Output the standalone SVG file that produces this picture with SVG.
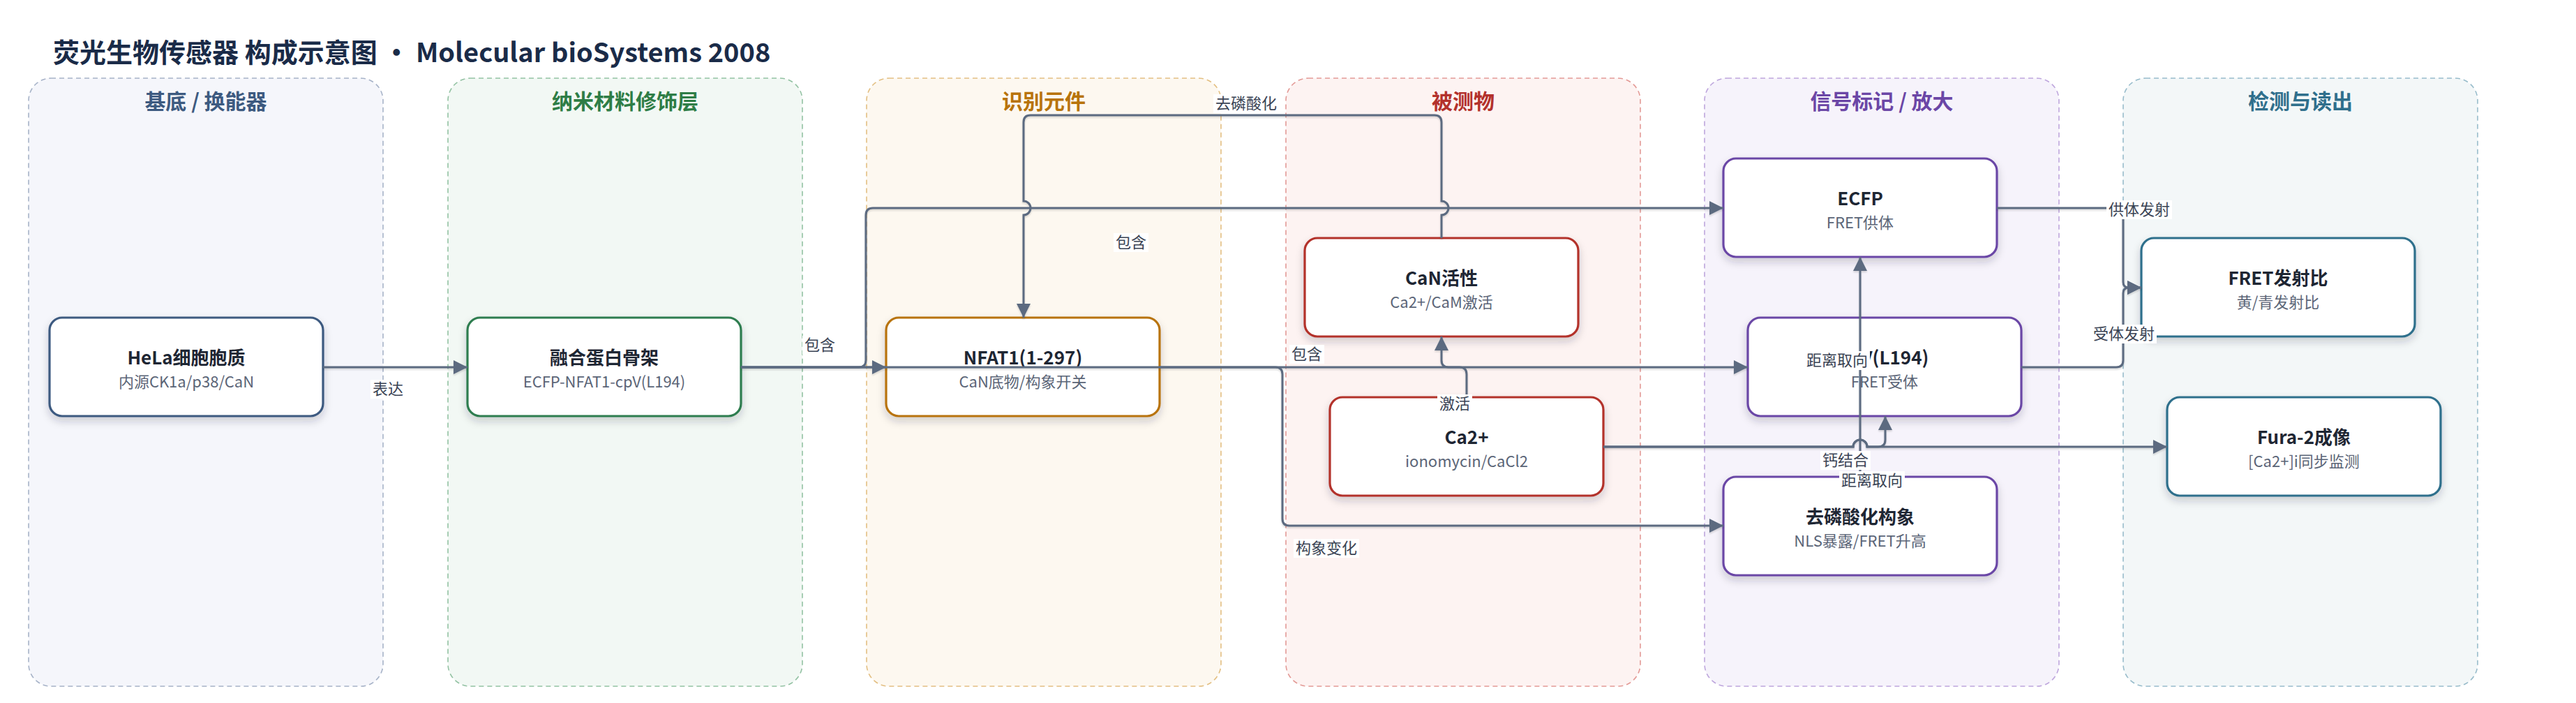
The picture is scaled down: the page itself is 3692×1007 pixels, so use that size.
<svg xmlns="http://www.w3.org/2000/svg" width="3692" height="1007" viewBox="0 0 3692 1007">
<style>
text{font-family:"Noto Sans CJK SC","Noto Sans",sans-serif}
.title{font-size:38px;font-weight:700;fill:#1a2b48}
.lane{stroke-width:1.6;stroke-dasharray:7 5}
.lt{font-size:30px;font-weight:700;text-anchor:middle}
.box{fill:#fff;stroke-width:3.2;filter:url(#sh)}
.nt{font-size:26px;font-weight:700;fill:#1e2633;text-anchor:middle}
.ns{font-size:22px;fill:#5b6577;text-anchor:middle}
.edge{fill:none;stroke:#5b6b80;stroke-width:3;marker-end:url(#arr)}
.edge0{fill:none;stroke:#5b6b80;stroke-width:3}
.lb{fill:#fff}
.lbt{font-size:22px;fill:#3a4354;text-anchor:middle}
</style>
<defs>
<filter id="sh" x="-10%" y="-20%" width="120%" height="150%">
<feDropShadow dx="0" dy="6" stdDeviation="6" flood-color="#1e2633" flood-opacity="0.2"/>
</filter>
<filter id="esh" x="-5%" y="-5%" width="110%" height="110%">
<feDropShadow dx="0" dy="2" stdDeviation="1.2" flood-color="#1e2633" flood-opacity="0.18"/>
</filter>
<marker id="arr" markerUnits="userSpaceOnUse" markerWidth="20" markerHeight="20" refX="20" refY="10" orient="auto">
<path d="M0,0 L20,10 L0,20 z" fill="#5b6b80"/>
</marker>
</defs>
<rect width="3692" height="1007" fill="#fff"/>
<text class="title" x="76" y="89">荧光生物传感器 构成示意图 · Molecular bioSystems 2008</text>

<g id="lanes">
<g id="lane-substrate"><rect class="lane" x="41" y="112" width="508" height="871" rx="32" fill="#f5f6fb" stroke="#a7b3c8"/><text class="lt" x="295" y="156" fill="#3d5a80">基底 / 换能器</text></g>
<g id="lane-nano"><rect class="lane" x="642" y="112" width="508" height="871" rx="32" fill="#f2f8f4" stroke="#93c2a3"/><text class="lt" x="896" y="156" fill="#2e7d46">纳米材料修饰层</text></g>
<g id="lane-recog"><rect class="lane" x="1242" y="112" width="508" height="871" rx="32" fill="#fdf8f0" stroke="#e3bf82"/><text class="lt" x="1496" y="156" fill="#b8730a">识别元件</text></g>
<g id="lane-analyte"><rect class="lane" x="1843" y="112" width="508" height="871" rx="32" fill="#fdf3f2" stroke="#e39a96"/><text class="lt" x="2097" y="156" fill="#b3312c">被测物</text></g>
<g id="lane-signal"><rect class="lane" x="2443" y="112" width="508" height="871" rx="32" fill="#f6f3fb" stroke="#bea6dd"/><text class="lt" x="2697" y="156" fill="#6b46a6">信号标记 / 放大</text></g>
<g id="lane-readout"><rect class="lane" x="3043" y="112" width="508" height="871" rx="32" fill="#f3f7f8" stroke="#98bccb"/><text class="lt" x="3297" y="156" fill="#2f6f8c">检测与读出</text></g>
</g>

<g id="nodes">
<g id="n-hela"><rect class="box" x="71" y="455" width="392" height="141" rx="18" stroke="#3d5a80"/><text class="nt" x="267" y="522">HeLa细胞胞质</text><text class="ns" x="267" y="555">内源CK1a/p38/CaN</text></g>
<g id="n-fusion"><rect class="box" x="670" y="455" width="392" height="141" rx="18" stroke="#2e7d4f"/><text class="nt" x="866" y="522">融合蛋白骨架</text><text class="ns" x="866" y="555">ECFP-NFAT1-cpV(L194)</text></g>
<g id="n-nfat1"><rect class="box" x="1270" y="455" width="392" height="141" rx="18" stroke="#b8730a"/><text class="nt" x="1466" y="522">NFAT1(1-297)</text><text class="ns" x="1466" y="555">CaN底物/构象开关</text></g>
<g id="n-can"><rect class="box" x="1870" y="341" width="392" height="141" rx="18" stroke="#b3312c"/><text class="nt" x="2066" y="408">CaN活性</text><text class="ns" x="2066" y="441">Ca2+/CaM激活</text></g>
<g id="n-ca"><rect class="box" x="1906" y="569" width="392" height="141" rx="18" stroke="#b3312c"/><text class="nt" x="2102" y="636">Ca2+</text><text class="ns" x="2102" y="669">ionomycin/CaCl2</text></g>
<g id="n-ecfp"><rect class="box" x="2470" y="227" width="392" height="141" rx="18" stroke="#6b46a6"/><text class="nt" x="2666" y="294">ECFP</text><text class="ns" x="2666" y="327">FRET供体</text></g>
<g id="n-cpv"><rect class="box" x="2505" y="455" width="392" height="141" rx="18" stroke="#6b46a6"/><text class="nt" x="2701" y="522">cpV(L194)</text><text class="ns" x="2701" y="555">FRET受体</text></g>
<g id="n-dephos"><rect class="box" x="2470" y="683" width="392" height="141" rx="18" stroke="#6b46a6"/><text class="nt" x="2666" y="750">去磷酸化构象</text><text class="ns" x="2666" y="783">NLS暴露/FRET升高</text></g>
<g id="n-fret"><rect class="box" x="3069" y="341" width="392" height="141" rx="18" stroke="#2f6f8c"/><text class="nt" x="3265" y="408">FRET发射比</text><text class="ns" x="3265" y="441">黄/青发射比</text></g>
<g id="n-fura"><rect class="box" x="3106" y="569" width="392" height="141" rx="18" stroke="#2f6f8c"/><text class="nt" x="3302" y="636">Fura-2成像</text><text class="ns" x="3302" y="669">[Ca2+]i同步监测</text></g>
</g>

<g id="connectors" filter="url(#esh)">
<path id="e-express" class="edge" d="M463,526 H670"/>
<path id="e-fusion-nfat1" class="edge" d="M1062,526 H1270"/>
<path id="e-fusion-ecfp" class="edge" d="M1062,526 H1231 Q1241,526 1241,516 V308 Q1241,298 1251,298 H2470"/>
<path id="e-fusion-cpv" class="edge" d="M1062,526 H2505"/>
<path id="e-dephos" class="edge" d="M2066,341 V308 A10,10 0 0 0 2066,288 V175 Q2066,165 2056,165 H1477 Q1467,165 1467,175 V288 A10,10 0 0 1 1467,308 V455"/>
<path id="e-activate" class="edge" d="M2102,569 V536 Q2102,526 2092,526 H2076 Q2066,526 2066,516 V482"/>
<path id="e-conform" class="edge" d="M1662,526 H1828 Q1838,526 1838,536 V743 Q1838,753 1848,753 H2470"/>
<path id="e-ca-cpv" class="edge" d="M2298,640 H2656 A10,10 0 0 1 2676,640 H2692 Q2702,640 2702,630 V596"/>
<path id="e-ca-fura" class="edge" d="M2298,640 H2656 A10,10 0 0 1 2676,640 H3106"/>
<path id="e-dephos-ecfp" class="edge" d="M2666,683 V368"/>
<path id="e-ecfp-fret" class="edge" d="M2862,298 H3033 Q3043,298 3043,308 V404 Q3043,412 3051,412 H3069"/>
<path id="e-cpv-fret" class="edge" d="M2897,526 H3033 Q3043,526 3043,516 V420 Q3043,412 3051,412 H3069"/>
</g>

<g id="edge-labels">
<g><rect class="lb" x="531" y="544" width="50" height="27"/><text class="lbt" x="556" y="565">表达</text></g>
<g><rect class="lb" x="1150" y="481" width="50" height="27"/><text class="lbt" x="1175" y="502">包含</text></g>
<g><rect class="lb" x="1596" y="334" width="50" height="27"/><text class="lbt" x="1621" y="355">包含</text></g>
<g><rect class="lb" x="1739" y="135" width="94" height="27"/><text class="lbt" x="1786" y="156">去磷酸化</text></g>
<g><rect class="lb" x="1848" y="494" width="50" height="27"/><text class="lbt" x="1873" y="515">包含</text></g>
<g><rect class="lb" x="2060" y="565" width="50" height="27"/><text class="lbt" x="2085" y="586">激活</text></g>
<g><rect class="lb" x="1854" y="772" width="94" height="27"/><text class="lbt" x="1901" y="793">构象变化</text></g>
<g><rect class="lb" x="2609" y="646" width="72" height="27"/><text class="lbt" x="2645" y="667">钙结合</text></g>
<g><rect class="lb" x="2636" y="675" width="94" height="27"/><text class="lbt" x="2683" y="696">距离取向</text></g>
<g><rect class="lb" x="2586" y="503" width="94" height="27"/><text class="lbt" x="2633" y="524">距离取向</text></g>
<g><rect class="lb" x="3019" y="287" width="94" height="27"/><text class="lbt" x="3066" y="308">供体发射</text></g>
<g><rect class="lb" x="2997" y="465" width="94" height="27"/><text class="lbt" x="3044" y="486">受体发射</text></g>
</g>
</svg>
